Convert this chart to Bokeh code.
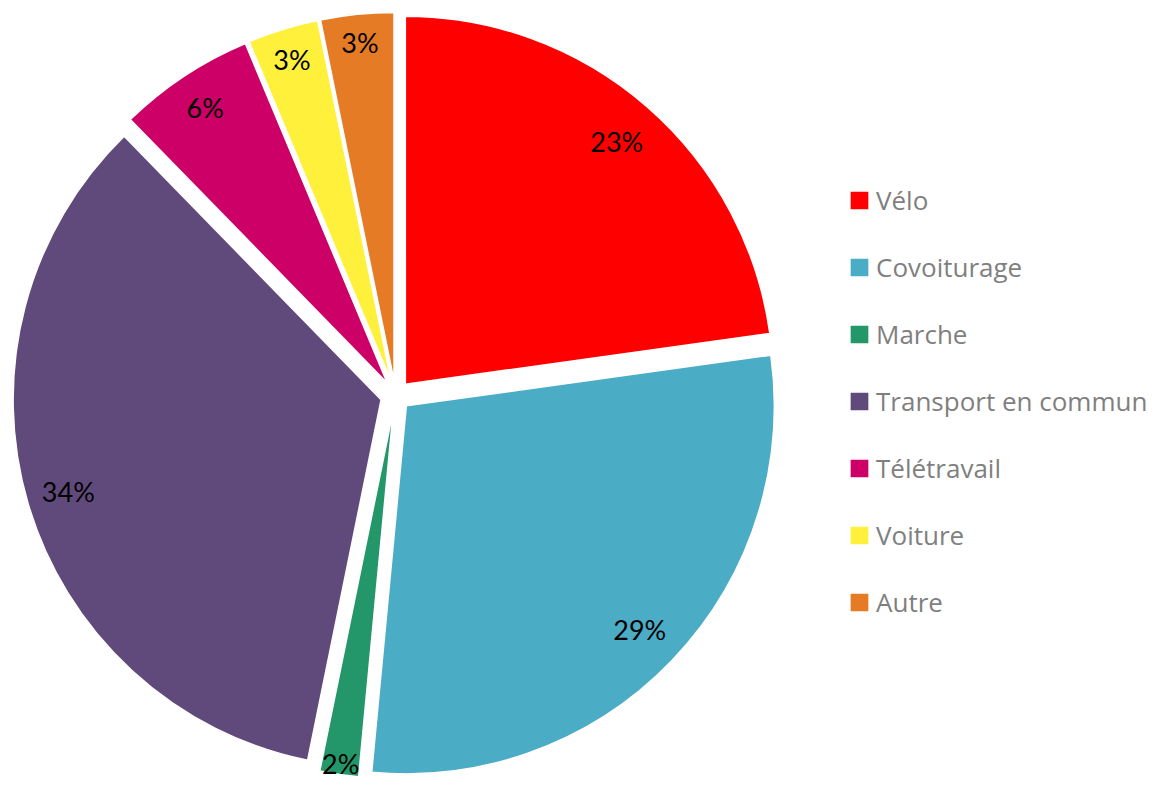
import numpy as np
from bokeh.plotting import figure
from bokeh.models import ColumnDataSource, Range1d, Legend, LegendItem
from bokeh.embed import file_html
from bokeh.resources import INLINE
from bokeh.core.properties import value

# ---- data ----
categories = ["Vélo", "Covoiturage", "Marche", "Transport en commun",
              "Télétravail", "Voiture", "Autre"]
shares = [22.8, 28.7, 1.7, 34.5, 6.0, 3.1, 3.2]
labels = ["23%", "29%", "2%", "34%", "6%", "3%", "3%"]
colors = ["#FF0000", "#4BACC6", "#24976A", "#604A7B",
          "#CC0066", "#FFF03C", "#E57C25"]

# ---- layout (not data) ----
label_dist = [322, 323, 357, 326, 330, 337, 340]   # label distance from slice apex
CX, CY = 395, 802 - 395    # pie centre (data coords = picture pixels, y flipped)
R = 368
EXPLODE = 15

W, H = 1152, 786
p = figure(width=W, height=H, x_range=Range1d(0, W), y_range=Range1d(802 - H, 802),
           output_backend="svg", toolbar_location=None, min_border=0)
p.axis.visible = False
p.grid.visible = False
p.outline_line_color = None
p.background_fill_color = "white"
p.border_fill_color = "white"

frac = np.array(shares) / np.sum(shares)
theta_end = np.cumsum(frac) * 2 * np.pi          # clockwise from north
theta_start = theta_end - frac * 2 * np.pi
theta_mid = (theta_start + theta_end) / 2
dx = np.sin(theta_mid)
dy = np.cos(theta_mid)
ax = CX + EXPLODE * dx
ay = CY + EXPLODE * dy

src = ColumnDataSource(dict(
    x=ax, y=ay,
    start=np.pi / 2 - theta_start,
    end=np.pi / 2 - theta_end,
    color=colors, cat=categories,
))
r = p.wedge(x="x", y="y", radius=R, start_angle="start", end_angle="end",
            direction="clock", fill_color="color", line_color="white",
            line_width=1.5, source=src)

lsrc = ColumnDataSource(dict(
    x=ax + np.array(label_dist) * dx,
    y=ay + np.array(label_dist) * dy,
    t=labels,
))
p.text(x="x", y="y", text="t", source=lsrc, text_align="center",
       text_baseline="middle", text_font=value("Lato"),
       text_font_size="27px", text_color="#000000")

items = [LegendItem(label=c, renderers=[r], index=i) for i, c in enumerate(categories)]
legend = Legend(items=items, location=(847, 164), orientation="vertical",
                glyph_width=24, glyph_height=24, label_height=40,
                spacing=27, padding=0, margin=0, label_standoff=5,
                label_text_font="Open Sans", label_text_font_size="26px",
                label_text_color="#7F7F7F", border_line_color=None,
                background_fill_alpha=0)
p.add_layout(legend)

open("out.html", "w").write(file_html(p, INLINE))
